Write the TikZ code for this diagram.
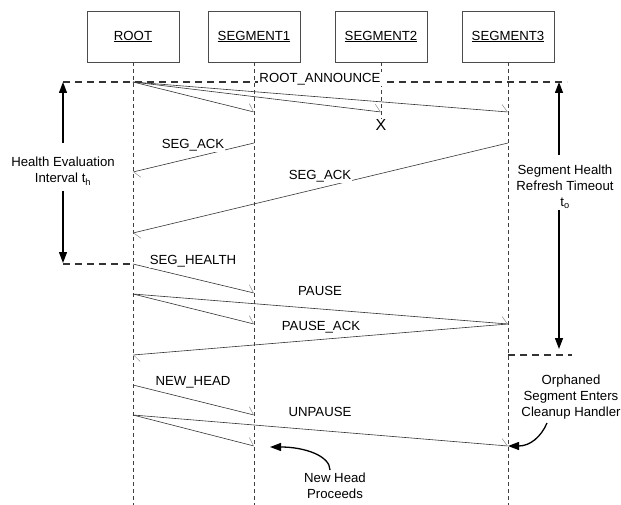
\documentclass[tikz,border=0pt]{standalone}
\usepackage{fontspec}
\setmainfont{Liberation Sans}
\usetikzlibrary{arrows.meta}
\begin{document}
\begin{tikzpicture}[x=1pt,y=-1pt,
  font=\fontsize{13.2}{16}\selectfont,
  actor/.style={draw=black!70,line width=0.6pt,minimum width=92pt,minimum height=51pt,inner sep=0pt},
  life/.style={draw=black!75,line width=0.7pt,dash pattern=on 4pt off 3pt},
  msg/.style={draw=black!80,line width=0.6pt,-{Straight Barb[harpoon,length=6pt,width=14pt,line width=0.5pt,color=black!45]}},
  lbl/.style={fill=white,inner sep=1pt},
  bound/.style={line width=1.3pt,draw=black!80,dash pattern=on 7pt off 5pt},
  tarrow/.style={line width=1.3pt,draw=black,-{Triangle[length=11pt,width=8pt]}},
  note/.style={align=center}]
\useasboundingbox (0,0) rectangle (621,505);
% actors
\node[actor] (r)  at (133,36.5) {\underline{ROOT}};
\node[actor] (s1) at (254,36.5) {\underline{SEGMENT1}};
\node[actor] (s2) at (381,36.5) {\underline{SEGMENT2}};
\node[actor] (s3) at (508,36.5) {\underline{SEGMENT3}};
% coordinates
\coordinate (ra) at (133,82);  \coordinate (rb) at (133,172); \coordinate (rc) at (133,233);
\coordinate (rd) at (133,264); \coordinate (re) at (133,294); \coordinate (rf) at (133,355);
\coordinate (rg) at (133,385); \coordinate (rh) at (133,415); \coordinate (rend) at (133,505);
\coordinate (aa) at (254,112); \coordinate (ab) at (254,143); \coordinate (ac) at (254,293);
\coordinate (ad) at (254,324); \coordinate (ae) at (254,415); \coordinate (af) at (254,446);
\coordinate (aend) at (254,505);
\coordinate (ba) at (381,112); \coordinate (bend) at (381,119);
\coordinate (ca) at (508,112); \coordinate (cb) at (508,143); \coordinate (cc) at (508,324);
\coordinate (cd) at (508,446); \coordinate (cdash) at (508,355); \coordinate (cend) at (508,505);
% lifelines
\draw[life] (r.south) -- (rend);
\draw[life] (s1.south) -- (aend);
\draw[life] (s2.south) -- (bend);
\draw[life] (s3.south) -- (cend);
% boundaries
\coordinate (hl) at (63,82); \coordinate (hr) at (567,82);
\coordinate (hlb) at (63,264); \coordinate (hrb) at (572,355);
\draw[bound] (hl) -- (hr);
\draw[bound] (hlb) -- (rd);
\draw[bound] (cdash) -- (hrb);
% vertical interval arrows
\coordinate (l1) at (63,143); \coordinate (l2) at (63,191); \coordinate (l3) at (63,263);
\draw[tarrow] (l1) -- (hl);
\draw[tarrow] (l2) -- (l3);
\coordinate (q0) at (559,82); \coordinate (q1) at (559,155); \coordinate (q2) at (559,210); \coordinate (q3) at (559,349);
\draw[tarrow] (q1) -- (q0);
\draw[tarrow] (q2) -- (q3);
\node[note] (he) at (63,171) {Health Evaluation\\Interval t\textsubscript{h}};
\node[note] (sh) at (565,187) {Segment Health\\Refresh Timeout\\t\textsubscript{o}};
% messages
\draw[msg] (ra) -- (aa);
\draw[msg] (ra) -- (ba);
\draw[msg] (ra) -- (ca);
\node[lbl] (l_ra) at (320,79) {ROOT\_ANNOUNCE};
\node (x) at (381,124.5) {\fontsize{16}{16}\selectfont X};
\draw[msg] (ab) -- (rb);
\node[lbl] (l_sa1) at (193,145) {SEG\_ACK};
\draw[msg] (cb) -- (rc);
\node[lbl] (l_sa2) at (320,176) {SEG\_ACK};
\draw[msg] (rd) -- (ac);
\node[lbl] (l_sh) at (193,261) {SEG\_HEALTH};
\draw[msg] (re) -- (ad);
\draw[msg] (re) -- (cc);
\node[lbl] (l_p) at (320,291) {PAUSE};
\draw[msg] (cc) -- (rf);
\node[lbl] (l_pa) at (321,327) {PAUSE\_ACK};
\draw[msg] (rg) -- (ae);
\node[lbl] (l_nh) at (193,382) {NEW\_HEAD};
\draw[msg] (rh) -- (af);
\draw[msg] (rh) -- (cd);
\node[lbl] (l_up) at (320,412) {UNPAUSE};
% annotations
\node[note] (nh) at (335,486) {New Head\\Proceeds};
\coordinate (nhtip) at (270,447);
\coordinate (nhs) at (330,470);
\draw[tarrow] (nhs) .. controls (330,456) and (305,447) .. (nhtip);
\node[note] (or) at (571,397) {Orphaned\\Segment Enters\\Cleanup Handler};
\coordinate (ors) at (547,423);
\draw[tarrow] (ors) .. controls (541,437) and (530,446) .. (cd);
\end{tikzpicture}
\end{document}
